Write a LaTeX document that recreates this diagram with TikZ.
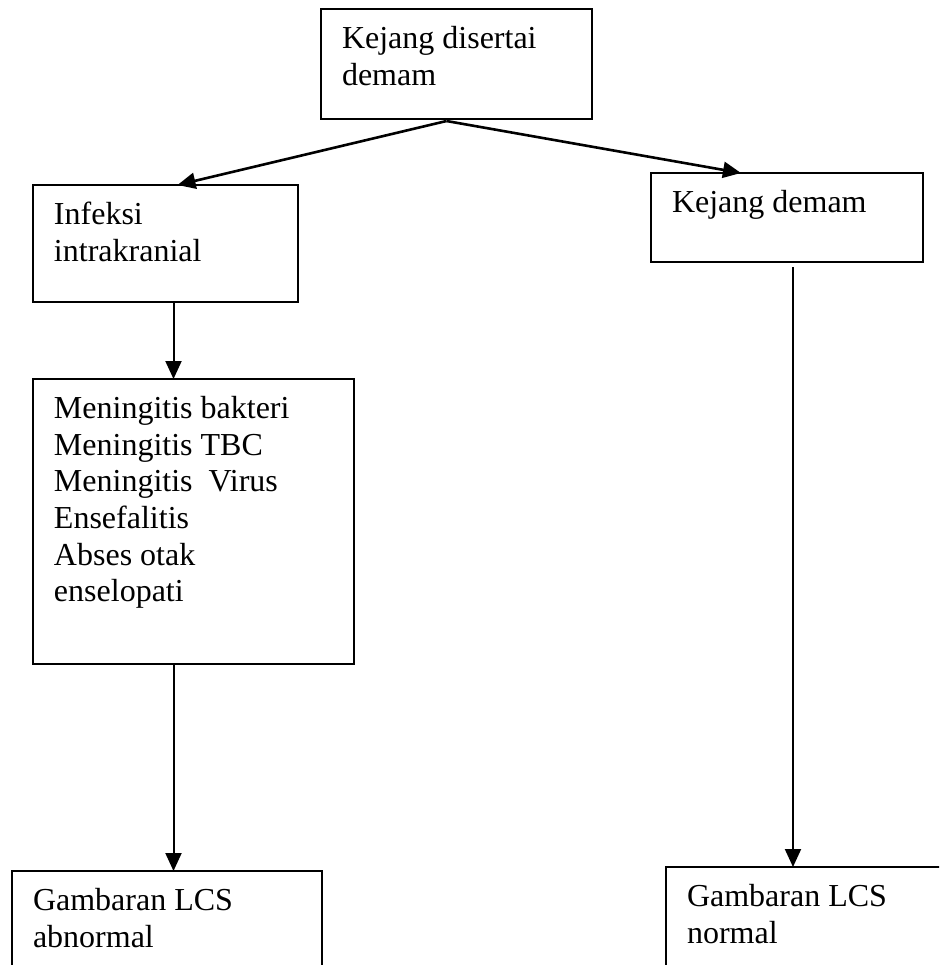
\documentclass[tikz,border=0pt]{standalone}
\usepackage{fontspec}
\setmainfont{Liberation Serif}
\usetikzlibrary{positioning, arrows.meta, calc}

% isi kotak: lebar, tinggi, teks (rata atas)
\newcommand{\isi}[3]{\parbox[t][#2][t]{#1}{\strut #3}}

\begin{document}
\begin{tikzpicture}[
    x=0.5pt, y=-0.5pt,
    ->, >={Triangle[length=9pt, width=8pt]},
    line width=1pt,
    kotak/.style={
        draw=black,
        line width=0.85pt,
        anchor=north west,
        outer sep=0pt,
        inner xsep=10.5pt,
        inner ysep=7pt,
        font=\fontsize{16}{18.3}\selectfont
    },
    miring/.style={line width=1.3pt}
]
    \clip (0,0) rectangle (939,965);

    % Kotak
    \node[kotak] (atas) at (321,9) {\isi{114.5pt}{41pt}{Kejang disertai\\demam}};
    \node[kotak] (infeksi) at (33,185) {\isi{111.5pt}{44.5pt}{Infeksi\\intrakranial}};
    \node[kotak] (demam) at (651,173) {\isi{115pt}{30.5pt}{Kejang demam}};
    \node[kotak] (meningitis) at (33,379)
        {\isi{139.5pt}{128.5pt}{Meningitis bakteri\\Meningitis TBC\\Meningitis\ \ Virus\\Ensefalitis\\Abses otak\\enselopati}};
    \node[kotak] (abnormal) at (12,871) {\isi{134pt}{46pt}{Gambaran LCS\\abnormal}};
    \node[kotak] (normal) at (666,867) {\isi{129pt}{46pt}{Gambaran LCS\\normal}};

    % Panah
    \draw[miring] ([xshift=-5pt, yshift=-1pt]atas.south) -- ([xshift=6pt]infeksi.north);
    \draw[miring] ([xshift=-5pt, yshift=-1pt]atas.south) -- ([xshift=-23pt]demam.north);

    \draw ([xshift=4pt]infeksi.south) -- ([xshift=4pt]infeksi.south |- meningitis.north);
    \draw ([xshift=-10pt]meningitis.south) -- ([xshift=-10pt]meningitis.south |- abnormal.north);

    \draw ([xshift=3pt, yshift=-2.5pt]demam.south) -- ([xshift=3pt]demam.south |- normal.north);

\end{tikzpicture}
\end{document}
